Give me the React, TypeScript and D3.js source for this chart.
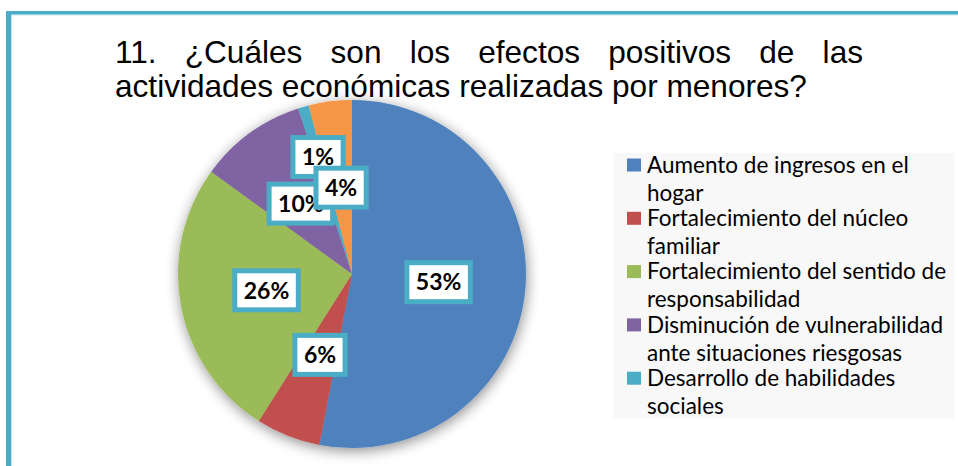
import { useEffect, useRef } from "react";
import * as d3 from "d3";

// chart data (percent shares)
const categories = [
  "Aumento de ingresos en el hogar",
  "Fortalecimiento del núcleo familiar",
  "Fortalecimiento del sentido de responsabilidad",
  "Disminución de vulnerabilidad ante situaciones riesgosas",
  "Desarrollo de habilidades sociales",
  "Otros",
];
const values = [53, 6, 26, 10, 1, 4];
const colors = ["#4F81BD", "#C0504D", "#9BBB59", "#8064A2", "#4BACC6", "#F79646"];

const titleLine1 = "11. ¿Cuáles son los efectos positivos de las";
const titleLine2 = "actividades económicas realizadas por menores?";

const W = 958;
const H = 466;
const teal = "#4BACC6";

export default function App() {
  const ref = useRef<SVGSVGElement | null>(null);

  useEffect(() => {
    document.body.style.margin = "0";
    const svg = d3.select(ref.current);
    svg.selectAll("*").remove();

    const defs = svg.append("defs");
    const shadow = defs.append("filter").attr("id", "pieShadow")
      .attr("x", "-20%").attr("y", "-20%").attr("width", "140%").attr("height", "140%");
    shadow.append("feGaussianBlur").attr("in", "SourceAlpha").attr("stdDeviation", 7).attr("result", "blur");
    shadow.append("feOffset").attr("dx", 1).attr("dy", 3).attr("result", "off");
    shadow.append("feComponentTransfer").attr("result", "sh")
      .append("feFuncA").attr("type", "linear").attr("slope", 0.45);
    const merge = shadow.append("feMerge");
    merge.append("feMergeNode").attr("in", "sh");
    merge.append("feMergeNode").attr("in", "SourceGraphic");

    // frame
    svg.append("rect").attr("width", W).attr("height", H).attr("fill", "#fff");
    svg.append("line").attr("x1", 11).attr("x2", W).attr("y1", 15).attr("y2", 15)
      .attr("stroke", "#c4e4ee").attr("stroke-width", 1);
    svg.append("line").attr("x1", 11.5).attr("x2", 11.5).attr("y1", 14).attr("y2", H)
      .attr("stroke", "#c4e4ee").attr("stroke-width", 1);
    svg.append("rect").attr("x", 6).attr("y", 11).attr("width", W - 6).attr("height", 3.5).attr("fill", teal);
    svg.append("rect").attr("x", 6).attr("y", 11).attr("width", 5).attr("height", H - 11).attr("fill", teal);

    // title, first line justified
    const tx0 = 115;
    const tx1 = 863;
    const titleFont = "'Liberation Sans', Arial, sans-serif";
    const tg = svg.append("g").attr("font-family", titleFont).attr("font-size", 31.6).attr("fill", "#000");
    const words = titleLine1.split(" ");
    const wordNodes = words.map((w) =>
      tg.append("text").attr("y", 63).text(w)
    );
    const widths = wordNodes.map((n) => (n.node() as SVGTextElement).getComputedTextLength());
    const gap = (tx1 - tx0 - d3.sum(widths)) / (words.length - 1);
    let xx = tx0;
    wordNodes.forEach((n, i) => {
      n.attr("x", xx);
      xx += widths[i] + gap;
    });
    tg.append("text").attr("x", tx0).attr("y", 97).text(titleLine2);

    // pie
    const cx = 352;
    const cy = 274;
    const r = 174;
    const pie = d3.pie<number>().sort(null).value((d) => d);
    const arcs = pie(values);
    const arc = d3.arc<d3.PieArcDatum<number>>().innerRadius(0).outerRadius(r);
    const g = svg.append("g").attr("transform", `translate(${cx},${cy})`);
    g.append("g").attr("filter", "url(#pieShadow)")
      .selectAll("path").data(arcs).join("path")
      .attr("d", arc)
      .attr("fill", (_, i) => colors[i]);

    // data labels
    const total = d3.sum(values);
    const labelFont = "Lato, 'Noto Sans', sans-serif";
    arcs.forEach((a) => {
      const share = a.value / total;
      const lr = share < 0.02 ? r * 0.7 : r * 0.5;
      const [lx, ly] = d3.arc<d3.PieArcDatum<number>>().innerRadius(lr).outerRadius(lr).centroid(a);
      const lg = g.append("g").attr("transform", `translate(${lx},${ly})`);
      const rect = lg.append("rect").attr("fill", "#fff").attr("stroke", teal).attr("stroke-width", 5);
      const t = lg.append("text")
        .attr("text-anchor", "middle").attr("dy", "0.36em")
        .attr("font-family", labelFont).attr("font-weight", 700).attr("font-size", 23)
        .attr("fill", "#000")
        .text(`${Math.round(share * 100)}%`);
      const tw = (t.node() as SVGTextElement).getComputedTextLength();
      const bw = tw + 18;
      const bh = 39;
      rect.attr("x", -bw / 2).attr("y", -bh / 2).attr("width", bw).attr("height", bh);
    });

    // legend
    const lx0 = 613;
    const ly0 = 153;
    const lw = 341;
    const lh = 266;
    defs.append("clipPath").attr("id", "legClip")
      .append("rect").attr("x", lx0).attr("y", ly0).attr("width", lw).attr("height", lh);
    svg.append("rect").attr("x", lx0).attr("y", ly0).attr("width", lw).attr("height", lh).attr("fill", "#f8f8f8");
    const leg = svg.append("g").attr("clip-path", "url(#legClip)")
      .attr("font-family", "Lato, 'Noto Sans', sans-serif").attr("font-size", 22.5).attr("fill", "#000");
    const ys = d3.scaleLinear().domain([0, 1]).range([165, 218.3]);
    const maxW = 310;
    categories.forEach((c, i) => {
      const y = ys(i);
      leg.append("rect").attr("x", 627).attr("y", y - 6.5).attr("width", 14).attr("height", 13).attr("fill", colors[i]);
      // wrap by measuring
      const parts = c.split(" ");
      const lines: string[] = [];
      let cur = "";
      const probe = leg.append("text");
      parts.forEach((p) => {
        const test = cur ? cur + " " + p : p;
        probe.text(test);
        if ((probe.node() as SVGTextElement).getComputedTextLength() > maxW && cur) {
          lines.push(cur);
          cur = p;
        } else {
          cur = test;
        }
      });
      lines.push(cur);
      probe.remove();
      lines.forEach((ln, j) => {
        leg.append("text").attr("x", 647).attr("y", y + j * 28).attr("dy", "0.35em").text(ln);
      });
    });
  }, []);

  return <svg ref={ref} width={W} height={H} style={{ display: "block" }} />;
}
